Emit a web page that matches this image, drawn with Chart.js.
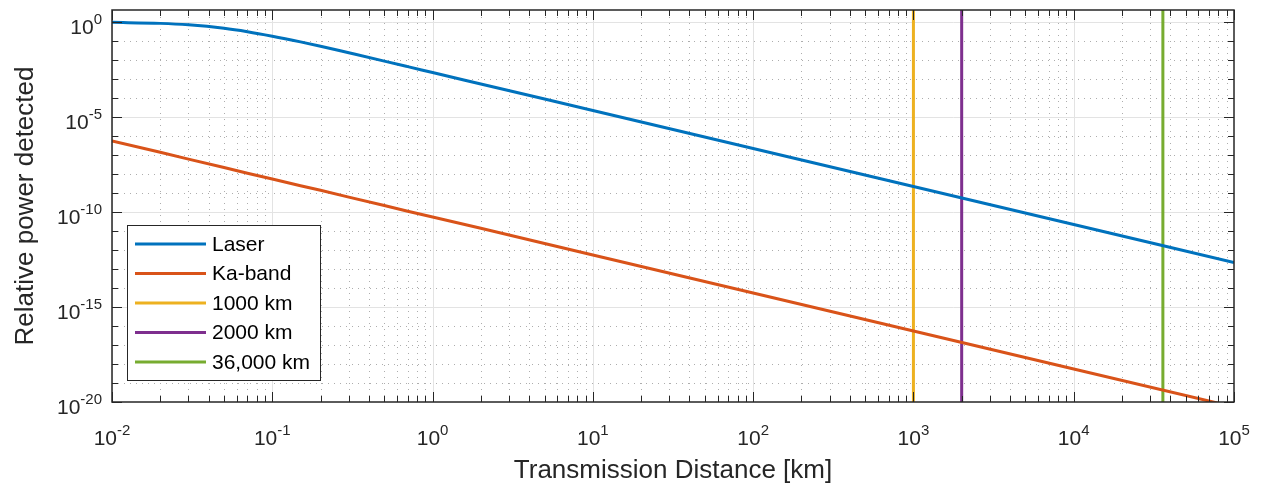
<!DOCTYPE html>
<html>
<head>
<meta charset="utf-8">
<title>Relative power detected</title>
<script src="https://cdn.jsdelivr.net/npm/chart.js@4.4.1/dist/chart.umd.min.js"></script>
<style>
  html, body { margin: 0; padding: 0; background: #ffffff; }
  #wrap { width: 1264px; height: 485px; }
</style>
</head>
<body>
<div id="wrap"><canvas id="chart" width="1264" height="485"></canvas></div>
<script>
// values
const distanceKm = [0.01, 0.02, 0.03, 0.05, 0.07, 0.1, 0.15, 0.2, 0.3, 0.5, 0.7, 1, 2, 5, 10, 100, 1000, 10000, 100000];
const laserPower = [0.96, 0.85, 0.71, 0.47, 0.31, 0.18, 0.09, 0.053, 0.024, 0.0088, 0.0045, 0.0022, 5.5e-4, 8.8e-5, 2.2e-5, 2.2e-7, 2.2e-9, 2.2e-11, 2.2e-13];
const kaBandPower = [5.5e-7, 1.4e-7, 6.1e-8, 2.2e-8, 1.1e-8, 5.5e-9, 2.4e-9, 1.4e-9, 6.1e-10, 2.2e-10, 1.1e-10, 5.5e-11, 1.4e-11, 2.2e-12, 5.5e-13, 5.5e-15, 5.5e-17, 5.5e-19, 5.5e-21];

const seriesLabels = ['Laser', 'Ka-band'];
const markerKm = [1000, 2000, 36000];
const markerLabels = ['1000 km', '2000 km', '36,000 km'];

const xTickExponents = [-2, -1, 0, 1, 2, 3, 4, 5];
const yTickExponents = [-20, -15, -10, -5, 0];

const xLabel = 'Transmission Distance [km]';
const yLabel = 'Relative power detected';

const xMin = 0.01, xMax = 1e5;
const yMin = 1e-20, yMax = 4.3;

const colors = ['#0072BD', '#D95319', '#EDB120', '#7E2F8E', '#77AC30'];
const textColor = '#262626';
const fontFamily = '"Liberation Sans", Arial, Helvetica, sans-serif';

const datasets = [
  {
    label: seriesLabels[0],
    data: distanceKm.map((d, i) => ({ x: d, y: laserPower[i] })),
    borderColor: colors[0],
    cubicInterpolationMode: 'monotone'
  },
  {
    label: seriesLabels[1],
    data: distanceKm.map((d, i) => ({ x: d, y: kaBandPower[i] })),
    borderColor: colors[1]
  }
];
markerKm.forEach((km, i) => {
  datasets.push({
    label: markerLabels[i],
    data: [{ x: km, y: yMin }, { x: km, y: yMax }],
    borderColor: colors[i + 2]
  });
});

// draw "10" with a raised exponent
function drawPow(ctx, exp, x, y, align) {
  const base = '10', sup = String(exp);
  ctx.font = '21px ' + fontFamily;
  const wb = ctx.measureText(base).width;
  ctx.font = '15px ' + fontFamily;
  const ws = ctx.measureText(sup).width;
  let start = x - (wb + ws) / 2;
  if (align === 'right') start = x - wb - ws;
  ctx.textAlign = 'left';
  ctx.textBaseline = 'alphabetic';
  ctx.font = '21px ' + fontFamily;
  ctx.fillText(base, start, y);
  ctx.font = '15px ' + fontFamily;
  ctx.fillText(sup, start + wb, y - 10);
}

function minorX() {
  const out = [];
  for (let e = -2; e < 5; e++) {
    for (let m = 2; m <= 9; m++) out.push(m * Math.pow(10, e));
  }
  return out;
}
function minorY() {
  const out = [];
  for (let e = -19; e <= 0; e++) {
    if (e % 5 !== 0) out.push(Math.pow(10, e));
  }
  return out;
}

const matlabAxes = {
  id: 'matlabAxes',
  beforeDatasetsDraw(chart) {
    const { ctx, chartArea: a, scales } = chart;
    const xs = scales.x, ys = scales.y;
    ctx.save();
    ctx.beginPath();
    ctx.rect(a.left, a.top, a.right - a.left, a.bottom - a.top);
    ctx.clip();

    // minor grid, dotted
    ctx.strokeStyle = '#adadad';
    ctx.lineWidth = 1;
    ctx.setLineDash([1, 5]);
    minorX().forEach(v => {
      const px = Math.round(xs.getPixelForValue(v)) + 0.5;
      ctx.beginPath(); ctx.moveTo(px, a.bottom); ctx.lineTo(px, a.top); ctx.stroke();
    });
    minorY().forEach(v => {
      const py = Math.round(ys.getPixelForValue(v)) + 0.5;
      ctx.beginPath(); ctx.moveTo(a.left, py); ctx.lineTo(a.right, py); ctx.stroke();
    });

    // major grid, solid
    ctx.setLineDash([]);
    ctx.strokeStyle = '#e3e3e3';
    xTickExponents.forEach(e => {
      const px = Math.round(xs.getPixelForValue(Math.pow(10, e))) + 0.5;
      ctx.beginPath(); ctx.moveTo(px, a.bottom); ctx.lineTo(px, a.top); ctx.stroke();
    });
    yTickExponents.forEach(e => {
      const py = Math.round(ys.getPixelForValue(Math.pow(10, e))) + 0.5;
      ctx.beginPath(); ctx.moveTo(a.left, py); ctx.lineTo(a.right, py); ctx.stroke();
    });
    ctx.restore();
  },
  afterDatasetsDraw(chart) {
    const { ctx, chartArea: a, scales } = chart;
    const xs = scales.x, ys = scales.y;
    ctx.save();

    // box
    ctx.strokeStyle = textColor;
    ctx.lineWidth = 1.5;
    ctx.strokeRect(a.left, a.top, a.right - a.left, a.bottom - a.top);

    // ticks, inside, on all four sides
    ctx.lineWidth = 1;
    const tickX = (v, len) => {
      const px = Math.round(xs.getPixelForValue(v)) + 0.5;
      ctx.beginPath();
      ctx.moveTo(px, a.bottom); ctx.lineTo(px, a.bottom - len);
      ctx.moveTo(px, a.top); ctx.lineTo(px, a.top + len);
      ctx.stroke();
    };
    const tickY = (v, len) => {
      const py = Math.round(ys.getPixelForValue(v)) + 0.5;
      ctx.beginPath();
      ctx.moveTo(a.left, py); ctx.lineTo(a.left + len, py);
      ctx.moveTo(a.right, py); ctx.lineTo(a.right - len, py);
      ctx.stroke();
    };
    minorX().forEach(v => tickX(v, 6));
    minorY().forEach(v => tickY(v, 6));
    xTickExponents.forEach(e => tickX(Math.pow(10, e), 10));
    yTickExponents.forEach(e => tickY(Math.pow(10, e), 10));

    // tick labels
    ctx.fillStyle = textColor;
    xTickExponents.forEach(e => {
      drawPow(ctx, e, xs.getPixelForValue(Math.pow(10, e)), a.bottom + 43, 'center');
    });
    yTickExponents.forEach(e => {
      drawPow(ctx, e, a.left - 10, ys.getPixelForValue(Math.pow(10, e)) + 12, 'right');
    });

    // axis titles
    ctx.font = '26px ' + fontFamily;
    ctx.textAlign = 'center';
    ctx.textBaseline = 'alphabetic';
    ctx.fillText(xLabel, (a.left + a.right) / 2, 478);
    ctx.save();
    ctx.translate(33, 206);
    ctx.rotate(-Math.PI / 2);
    ctx.fillText(yLabel, 0, 0);
    ctx.restore();

    // legend box
    const lx = 127, ly = 225, lw = 193, lh = 155;
    ctx.fillStyle = '#ffffff';
    ctx.fillRect(lx, ly, lw, lh);
    ctx.strokeStyle = textColor;
    ctx.lineWidth = 1;
    ctx.strokeRect(lx + 0.5, ly + 0.5, lw, lh);
    ctx.font = '21px ' + fontFamily;
    ctx.textAlign = 'left';
    ctx.textBaseline = 'middle';
    chart.data.datasets.forEach((ds, i) => {
      const y = 244 + i * 29.5;
      ctx.strokeStyle = ds.borderColor;
      ctx.lineWidth = 3;
      ctx.beginPath(); ctx.moveTo(135, y); ctx.lineTo(206, y); ctx.stroke();
      ctx.fillStyle = '#000000';
      ctx.fillText(ds.label, 212, y + 1);
    });

    ctx.restore();
  }
};

new Chart(document.getElementById('chart'), {
  type: 'line',
  data: { datasets: datasets },
  options: {
    responsive: false,
    animation: false,
    devicePixelRatio: 1,
    layout: { padding: { left: 112, top: 10, right: 30, bottom: 83 } },
    elements: {
      point: { radius: 0 },
      line: { borderWidth: 3, fill: false }
    },
    plugins: {
      legend: { display: false },
      tooltip: { enabled: false }
    },
    scales: {
      x: { type: 'logarithmic', min: xMin, max: xMax, display: false },
      y: { type: 'logarithmic', min: yMin, max: yMax, display: false }
    }
  },
  plugins: [matlabAxes]
});
</script>
</body>
</html>
